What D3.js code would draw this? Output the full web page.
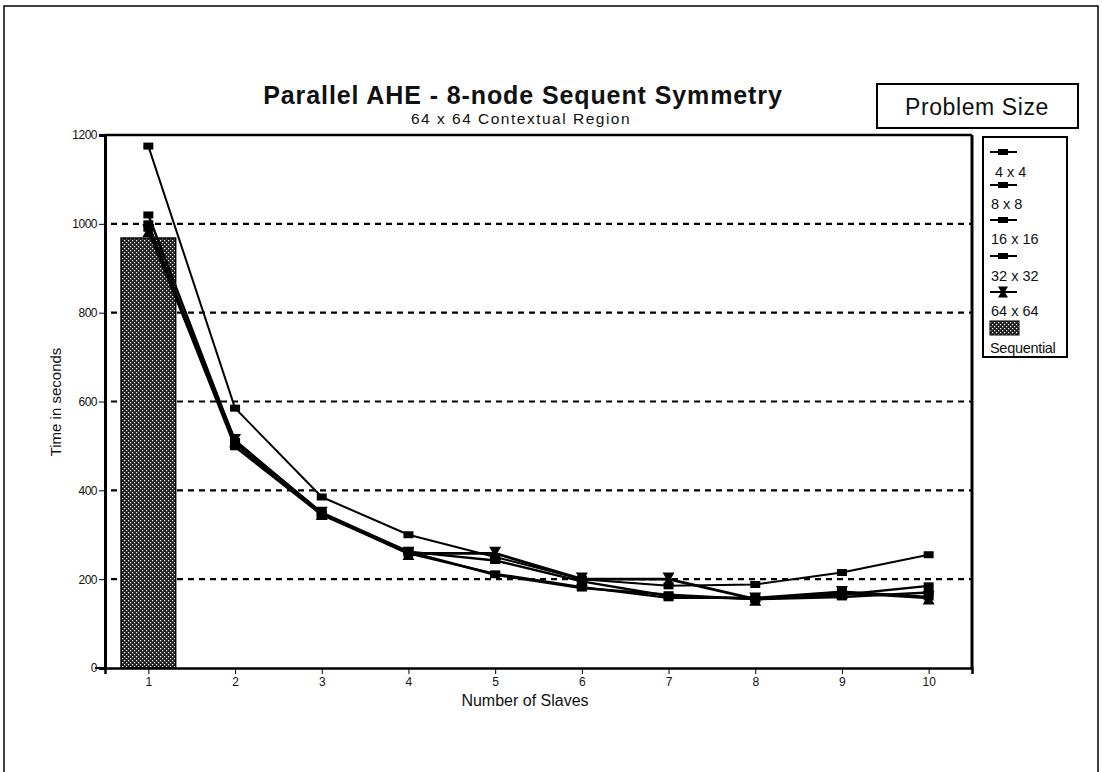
<!DOCTYPE html>
<html><head><meta charset="utf-8">
<script src="https://cdn.jsdelivr.net/npm/d3@7/dist/d3.min.js"></script>
<style>
html,body{margin:0;padding:0;background:#fff;}
svg{display:block;font-family:"Liberation Sans",Arial,sans-serif;}
</style></head>
<body><svg id="c" width="1102" height="772"></svg>
<script>
// ---- data ----
const slaves = [1,2,3,4,5,6,7,8,9,10];
const seriesNames = ["4 x 4","8 x  8","16 x 16","32 x 32","64 x 64"];
const size4 = [1175, 585, 385, 300, 250, 200, 185, 188, 215, 255];
const size8 = [1020, 510, 350, 262, 242, 195, 162, 155, 165, 185];
const size16 = [1000, 505, 345, 262, 210, 180, 165, 155, 160, 170];
const size32 = [990, 498, 345, 258, 212, 182, 158, 158, 172, 160];
const size64 = [985, 512, 348, 258, 258, 200, 200, 155, 170, 158];
const sequentialX = [1];
const sequentialValue = [968];
const yTicks = [0,200,400,600,800,1000,1200];
const gridValues = [200,400,600,800,1000];

const svg = d3.select("#c");
const L=105, R=972, T=135, B=668;
const x = d3.scaleLinear().domain([0.5,10.5]).range([L,R]);
const y = d3.scaleLinear().domain([0,1200]).range([B,T]);

// pattern for sequential bar
const defs = svg.append("defs");
const pat = defs.append("pattern").attr("id","stip").attr("patternUnits","userSpaceOnUse").attr("width",4).attr("height",4);
pat.append("rect").attr("width",4).attr("height",4).attr("fill","#222");
pat.append("rect").attr("x",0).attr("y",0).attr("width",1.2).attr("height",1.2).attr("fill","#fff");
pat.append("rect").attr("x",2).attr("y",2).attr("width",1.2).attr("height",1.2).attr("fill","#fff");

// outer frame
svg.append("rect").attr("x",4).attr("y",6).attr("width",1094).attr("height",800).attr("fill","none").attr("stroke","#000").attr("stroke-width",1.5);

// titles
svg.append("text").attr("x",523).attr("y",104).attr("text-anchor","middle").attr("font-size",25).attr("font-weight","bold").attr("letter-spacing",0.9).attr("fill","#111").text("Parallel AHE - 8-node Sequent Symmetry");
svg.append("text").attr("x",521).attr("y",124).attr("text-anchor","middle").attr("font-size",15.5).attr("letter-spacing",1.5).attr("fill","#111").text("64 x 64 Contextual Region");

// Problem size box
svg.append("rect").attr("x",877).attr("y",84).attr("width",201).attr("height",44).attr("fill","none").attr("stroke","#000").attr("stroke-width",2);
svg.append("text").attr("x",977).attr("y",115).attr("text-anchor","middle").attr("font-size",23).attr("letter-spacing",0.6).attr("fill","#111").text("Problem Size");

// gridlines
svg.append("g").selectAll("line").data(gridValues).join("line")
  .attr("x1",L+6).attr("x2",R).attr("y1",d=>y(d)).attr("y2",d=>y(d))
  .attr("stroke","#000").attr("stroke-width",2.2).attr("stroke-dasharray","6,5");

// bar
const bw = (x(1.315)-x(0.685));
svg.append("g").selectAll("rect").data(sequentialX.map((d,i)=>({x:d,v:sequentialValue[i]}))).join("rect")
  .attr("x",d=>x(d.x)-bw/2).attr("width",bw).attr("y",d=>y(d.v)).attr("height",d=>y(0)-y(d.v))
  .attr("fill","url(#stip)").attr("stroke","#000").attr("stroke-width",1.5);

// axes
const yAxis = d3.axisLeft(y).tickValues(yTicks).tickSize(6).tickPadding(2).tickFormat(d3.format("d"));
const gy = svg.append("g").attr("transform",`translate(${L},0)`).call(yAxis);
gy.select(".domain").attr("stroke-width",3);
gy.selectAll("text").attr("font-size",12).attr("letter-spacing",-0.5).attr("fill","#111");
const xAxis = d3.axisBottom(x).tickValues(slaves).tickSize(6).tickPadding(3).tickFormat(d3.format("d"));
const gx = svg.append("g").attr("transform",`translate(0,${B})`).call(xAxis);
gx.select(".domain").attr("stroke-width",2.5);
gx.selectAll("text").attr("font-size",12).attr("fill","#111");
// bottom axis extends slightly left
svg.append("line").attr("x1",95).attr("x2",L).attr("y1",B).attr("y2",B).attr("stroke","#000").attr("stroke-width",2);
// top and right frame
svg.append("line").attr("x1",L).attr("x2",R).attr("y1",T).attr("y2",T).attr("stroke","#000").attr("stroke-width",2.5);
svg.append("line").attr("x1",R).attr("x2",R).attr("y1",T).attr("y2",B+1).attr("stroke","#000").attr("stroke-width",3);

// axis titles
svg.append("text").attr("transform","translate(61,402) rotate(-90)").attr("text-anchor","middle").attr("font-size",15).attr("fill","#111").text("Time in seconds");
svg.append("text").attr("x",525).attr("y",706).attr("text-anchor","middle").attr("font-size",16).attr("fill","#111").text("Number of Slaves");

// series
const allSeries = [size4,size8,size16,size32,size64];
const widths = [2,2.4,2.4,2.4,2.8];
const line = d3.line().x((d,i)=>x(slaves[i])).y(d=>y(d));
const bowtie = (cx,cy,s)=>`M${cx-s},${cy-s*1.1}L${cx+s},${cy-s*1.1}L${cx+s*0.35},${cy}L${cx+s},${cy+s*1.1}L${cx-s},${cy+s*1.1}L${cx-s*0.35},${cy}Z`;
allSeries.forEach((vals,k)=>{
  svg.append("path").datum(vals).attr("d",line).attr("fill","none").attr("stroke","#000").attr("stroke-width",widths[k]).attr("stroke-linejoin","round");
  const g = svg.append("g");
  if(k===4){
    g.selectAll("path").data(vals).join("path").attr("d",(d,i)=>bowtie(x(slaves[i]),y(d),6)).attr("fill","#000");
  } else {
    g.selectAll("rect").data(vals).join("rect")
      .attr("x",(d,i)=>x(slaves[i])-5).attr("y",d=>y(d)-3.5).attr("width",10).attr("height",7).attr("fill","#000");
  }
});

// legend
svg.append("rect").attr("x",983).attr("y",137).attr("width",84).attr("height",220).attr("fill","#fff").attr("stroke","#000").attr("stroke-width",2);
const legY = [152,185,220,256,292];
const labY = [177,209,244,281,316];
const labX = [995,991,991,991,991];
const lg = svg.append("g");
seriesNames.forEach((n,k)=>{
  lg.append("line").attr("x1",990).attr("x2",1017).attr("y1",legY[k]).attr("y2",legY[k]).attr("stroke","#000").attr("stroke-width",2);
  if(k===4) lg.append("path").attr("d",bowtie(1003,legY[k],5)).attr("fill","#000");
  else lg.append("rect").attr("x",998).attr("y",legY[k]-3).attr("width",10).attr("height",6).attr("fill","#000");
  lg.append("text").attr("x",labX[k]).attr("y",labY[k]).attr("font-size",14.5).attr("fill","#111").text(n);
});
lg.append("rect").attr("x",990).attr("y",321).attr("width",29).attr("height",14).attr("fill","url(#stip)").attr("stroke","#000");
lg.append("text").attr("x",990).attr("y",353).attr("font-size",14.5).attr("letter-spacing",-0.3).attr("fill","#111").text("Sequential");
</script></body></html>
